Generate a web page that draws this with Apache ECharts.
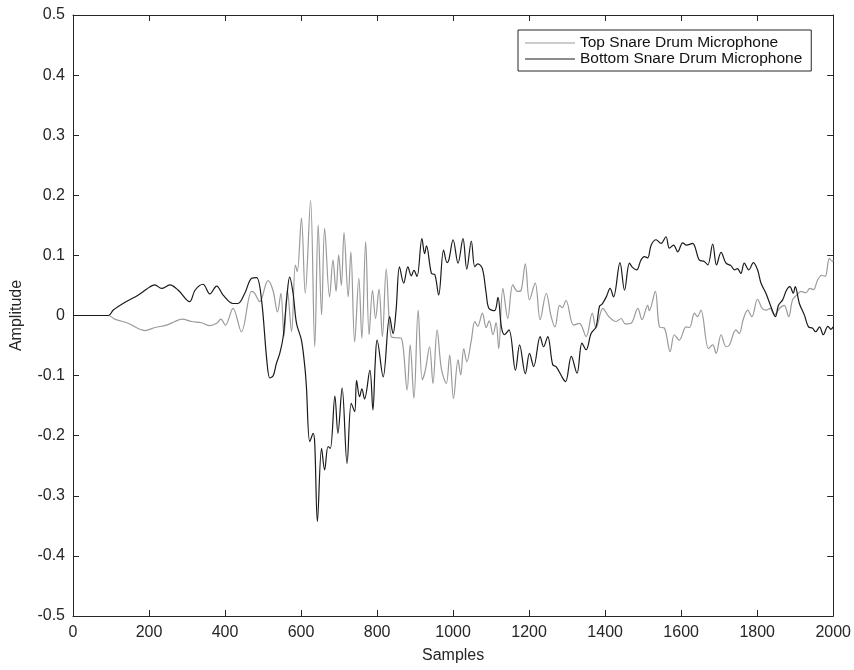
<!DOCTYPE html>
<html>
<head>
<meta charset="utf-8">
<script src="https://cdn.jsdelivr.net/npm/echarts@6/dist/echarts.min.js"></script>
<style>
html,body{margin:0;padding:0;background:#fff;}
#chart{width:854px;height:670px;}
</style>
</head>
<body>
<div id="chart"></div>
<script>
// ---- data ----
const seriesNames = ['Top Snare Drum Microphone', 'Bottom Snare Drum Microphone'];
const xTicks = [0, 200, 400, 600, 800, 1000, 1200, 1400, 1600, 1800, 2000];
const yTicks = [-0.5, -0.4, -0.3, -0.2, -0.1, 0, 0.1, 0.2, 0.3, 0.4, 0.5];

const topSamples = [0,93,110,145,189,216,246,268,287,312,338,360,378,389,401,421,443,470,478,491,513,526,538,547,555,564,575,585,590,601,611,625,636,645,654,662,675,684,692,699,706,713,724,731,741,752,760,770,779,788,796,805,814,824,837,852,864,879,887,897,908,919,927,938,947,958,969,982,991,1001,1013,1020,1028,1036,1048,1057,1065,1077,1087,1095,1105,1113,1120,1131,1144,1157,1170,1179,1190,1201,1216,1229,1245,1258,1268,1280,1287,1297,1317,1332,1350,1366,1376,1394,1410,1429,1442,1453,1468,1486,1497,1512,1516,1532,1543,1556,1571,1582,1595,1613,1622,1635,1643,1652,1672,1683,1692,1705,1718,1727,1744,1753,1763,1775,1786,1801,1813,1825,1834,1845,1859,1871,1883,1893,1904,1915,1928,1939,1948,1959,1970,1979,1990,1998,2000];
const topAmp = [0,0,-0.006,-0.013,-0.025,-0.020,-0.016,-0.010,-0.006,-0.010,-0.012,-0.017,-0.013,-0.006,-0.016,0.012,-0.027,0.040,0.037,0.023,0.058,0.042,0.006,0.037,-0.035,0.042,-0.027,0.084,0.073,0.162,0.037,0.191,-0.052,0.151,0.001,0.145,0.031,0.092,0.040,0.101,0.050,0.138,0.031,0.106,-0.044,0.062,-0.038,0.123,-0.032,0.042,-0.005,0.044,-0.035,0.077,-0.035,-0.037,-0.038,-0.124,-0.049,-0.138,0.009,-0.107,-0.091,-0.052,-0.113,-0.024,-0.088,-0.113,-0.066,-0.138,-0.074,-0.099,-0.055,-0.077,-0.041,-0.010,-0.018,0.004,-0.020,-0.009,-0.032,-0.012,-0.055,0.045,-0.005,0.051,0.040,0.042,0.086,0.026,0.054,-0.007,0.037,-0.002,-0.019,0.017,0.013,0.025,-0.016,-0.013,-0.035,0.004,-0.021,0.012,-0.002,-0.010,-0.005,-0.014,-0.013,0.012,-0.007,0.017,0.008,0.040,-0.019,-0.021,-0.060,-0.032,-0.041,-0.019,-0.020,0.004,-0.002,0.009,-0.055,-0.049,-0.063,-0.032,-0.052,-0.049,-0.024,-0.030,-0.007,0.009,-0.002,0.027,0.012,0.009,0.012,0.001,0.012,0.017,-0.002,0.026,0.034,0.040,0.038,0.045,0.043,0.059,0.067,0.065,0.095,0.090,0.092];

const bottomSamples = [0,93,106,137,172,194,215,233,255,277,307,321,342,360,378,395,421,434,452,470,483,496,510,518,527,535,544,553,562,570,579,588,601,610,614,623,632,636,643,654,662,671,677,689,697,708,721,732,741,746,754,760,767,781,789,795,800,816,833,842,850,859,870,881,890,897,905,918,925,930,943,952,962,975,984,989,1000,1013,1026,1036,1048,1057,1065,1077,1087,1094,1109,1118,1127,1135,1147,1164,1175,1190,1201,1212,1229,1238,1249,1262,1271,1289,1296,1311,1326,1339,1350,1363,1376,1385,1392,1403,1413,1422,1439,1451,1464,1472,1483,1494,1503,1512,1521,1534,1547,1560,1569,1580,1591,1604,1614,1630,1648,1661,1670,1683,1693,1705,1718,1731,1740,1748,1757,1766,1778,1790,1801,1810,1823,1836,1848,1856,1867,1877,1886,1895,1900,1911,1924,1935,1945,1954,1964,1974,1986,1994,2000];
const bottomAmp = [0,0,0.009,0.022,0.034,0.044,0.051,0.045,0.051,0.042,0.023,0.042,0.052,0.036,0.049,0.034,0.020,0.020,0.037,0.062,0.063,0.026,-0.075,-0.104,-0.100,-0.080,-0.063,-0.035,0.026,0.064,0.037,-0.013,-0.041,-0.086,-0.118,-0.210,-0.196,-0.213,-0.343,-0.221,-0.257,-0.218,-0.221,-0.134,-0.196,-0.121,-0.246,-0.146,-0.160,-0.108,-0.135,-0.122,-0.139,-0.091,-0.157,-0.080,-0.041,-0.102,-0.002,-0.030,0.009,0.081,0.054,0.081,0.066,0.075,0.065,0.128,0.103,0.116,0.070,0.068,0.034,0.109,0.088,0.093,0.126,0.087,0.128,0.077,0.124,0.081,0.086,0.078,0.037,0.012,0.008,0.030,-0.019,-0.032,-0.024,-0.091,-0.049,-0.097,-0.063,-0.085,-0.035,-0.052,-0.035,-0.082,-0.085,-0.105,-0.110,-0.068,-0.096,-0.046,-0.057,-0.030,-0.019,0.015,0.019,0.031,0.045,0.031,0.088,0.042,0.087,0.080,0.076,0.092,0.098,0.096,0.117,0.126,0.120,0.131,0.112,0.117,0.106,0.121,0.117,0.120,0.092,0.090,0.084,0.119,0.084,0.105,0.087,0.083,0.076,0.078,0.070,0.087,0.076,0.088,0.076,0.054,0.037,0.015,-0.002,0.017,0.026,0.042,0.048,0.037,0.048,0.020,0.001,-0.019,-0.021,-0.027,-0.019,-0.032,-0.018,-0.023,-0.019];

const topColor = '#9a9a9a';
const bottomColor = '#1a1a1a';

// ---- build ----
function pairs(xs, ys) { return xs.map((x, i) => [x, ys[i]]); }
const FONT = "'Liberation Sans', Arial, Helvetica, sans-serif";
const axisCol = '#262626';

const chart = echarts.init(document.getElementById('chart'), null, {renderer: 'canvas'});

const xBase = {
  type: 'value', min: xTicks[0], max: xTicks[xTicks.length - 1], interval: 200,
  splitLine: {show: false},
  axisLine: {show: true, onZero: false, lineStyle: {color: axisCol, width: 1}},
  axisTick: {show: true, inside: true, length: 6, lineStyle: {color: axisCol}},
};
const yBase = {
  type: 'value', min: yTicks[0], max: yTicks[yTicks.length - 1], interval: 0.1,
  splitLine: {show: false},
  axisLine: {show: true, onZero: false, lineStyle: {color: axisCol, width: 1}},
  axisTick: {show: true, inside: true, length: 6, lineStyle: {color: axisCol}},
};

const option = {
  backgroundColor: '#fff',
  animation: false,
  grid: {left: 73, right: 20, top: 15, bottom: 54, containLabel: false},
  legend: {
    data: seriesNames.map(n => ({name: n, icon: 'rect'})),
    orient: 'vertical',
    left: 518, top: 30,
    backgroundColor: '#fff',
    borderColor: axisCol, borderWidth: 1, borderRadius: 0,
    padding: [5, 9, 4, 7],
    itemWidth: 50, itemHeight: 1.2, itemGap: 0,
    textStyle: {fontFamily: FONT, fontSize: 15.5, color: '#111', lineHeight: 15}
  },
  xAxis: [
    Object.assign({}, xBase, {
      position: 'bottom',
      name: 'Samples', nameLocation: 'middle', nameGap: 32,
      nameTextStyle: {fontFamily: FONT, fontSize: 16, color: axisCol},
      axisLabel: {fontFamily: FONT, fontSize: 16, color: axisCol, margin: 9,
        formatter: v => String(Math.round(v))}
    }),
    Object.assign({}, xBase, {position: 'top', axisLabel: {show: false}})
  ],
  yAxis: [
    Object.assign({}, yBase, {
      position: 'left',
      name: 'Amplitude', nameLocation: 'middle', nameGap: 48, nameRotate: 90,
      nameTextStyle: {fontFamily: FONT, fontSize: 16, color: axisCol},
      axisLabel: {fontFamily: FONT, fontSize: 16, color: axisCol, margin: 8,
        formatter: v => { const r = Math.round(v * 10) / 10; return r === 0 ? '0' : String(r); }}
    }),
    Object.assign({}, yBase, {position: 'right', axisLabel: {show: false}})
  ],
  series: [
    {
      name: seriesNames[0], type: 'line', data: pairs(topSamples, topAmp),
      symbol: 'none', showSymbol: false, smooth: 0.35,
      lineStyle: {color: topColor, width: 1.2}, itemStyle: {color: topColor}
    },
    {
      name: seriesNames[1], type: 'line', data: pairs(bottomSamples, bottomAmp),
      symbol: 'none', showSymbol: false, smooth: 0.35,
      lineStyle: {color: bottomColor, width: 1.2}, itemStyle: {color: bottomColor}
    }
  ]
};
chart.setOption(option);
</script>
</body>
</html>
